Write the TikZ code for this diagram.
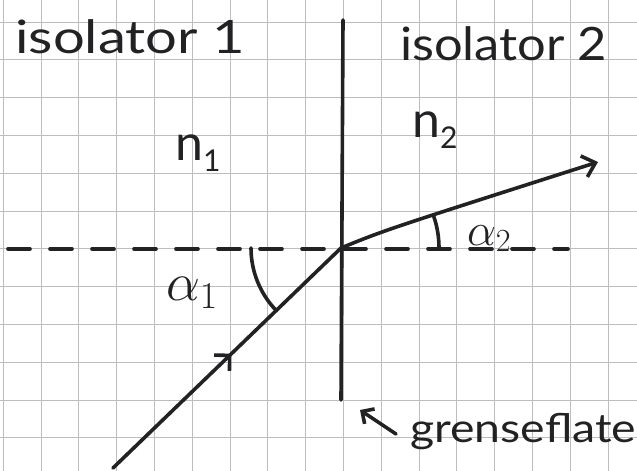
\RequirePackage{fix-cm}
\documentclass[tikz,border=0pt]{standalone}
\usepackage{fontspec}
\setmainfont{Lato}
\usetikzlibrary{arrows.meta,decorations.markings}
\definecolor{ink}{HTML}{222224}
\definecolor{gridc}{HTML}{BDBDBF}
\begin{document}
\begin{tikzpicture}[x=1pt,y=-1pt,
  ink/.style={draw=ink, line width=3.6pt, line cap=round, line join=round},
  gridline/.style={draw=gridc, line width=0.9pt},
  lbl/.style={text=ink, inner sep=0pt},
  barb/.style={-{Straight Barb[length=12pt,width=22pt,line width=3.6pt]}},
  smallbarb/.style={-{Straight Barb[length=9pt,width=18pt,line width=3.6pt]}}
]
\fill[white] (0,0) rectangle (637,471);
\useasboundingbox (0,0) rectangle (637,471);
% grid paper
\foreach \i in {0,...,16} \draw[gridline] ({3.3+37.8*\i},0) -- ({3.3+37.8*\i},471);
\foreach \j in {0,...,11} \draw[gridline] (0,{22+37.8*\j}) -- (637,{22+37.8*\j});
% points
\coordinate (O) at (341,248);
\coordinate (S) at (113,468);
\coordinate (T) at (598,162);
\coordinate (Btop) at (343,20);
\coordinate (Bbot) at (341,400);
\coordinate (Dl) at (8,249);
\coordinate (Dr) at (568,249);
\coordinate (Gtail) at (396,434);
\coordinate (Gtip) at (360,410);
% normal (dashed)
\draw[ink, dash pattern=on 22pt off 20pt] (Dl) -- (Dr);
% interface
\draw[ink] (Btop) -- (Bbot);
% incident ray
\draw[ink, postaction={decorate}, decoration={markings, mark=at position 0.52 with {\arrow{Straight Barb[length=11pt,width=22pt,line width=3.6pt]}}}] (S) -- (O);
% refracted ray
\draw[ink, barb] (O) .. controls (385,230) .. (T);
% angle arcs
\draw[ink] (O) ++(180:90pt) arc[start angle=180, end angle=224, radius=90pt];
\draw[ink] (O) ++(0:98pt) arc[start angle=0, end angle=19, radius=98pt];
% labels
\node[lbl, anchor=base west, xscale=1.22, font=\fontsize{46}{50}\selectfont] (iso1) at (15,53) {isolator 1};
\node[lbl, anchor=base west, xscale=1.1, font=\fontsize{46}{50}\selectfont] (iso2) at (400,60) {isolator 2};
\node[lbl, anchor=base west, font=\fontsize{50}{54}\selectfont] (n1) at (175,160) {n\raisebox{-0.22em}{\fontsize{30}{32}\selectfont 1}};
\node[lbl, anchor=base west, font=\fontsize{50}{54}\selectfont] (n2) at (412,137) {n\raisebox{-0.22em}{\fontsize{30}{32}\selectfont 2}};
\node[lbl, anchor=base west, font=\fontsize{54}{58}\selectfont] (a1) at (166,300) {$\alpha_1$};
\node[lbl, anchor=base west, font=\fontsize{46}{50}\selectfont] (a2) at (467,245) {$\alpha_2$};
\node[lbl, anchor=base west, xscale=1.16, font=\fontsize{40}{44}\selectfont] (gf) at (410,442) {grenseflate};
\draw[ink, smallbarb] (Gtail) -- (Gtip);
\end{tikzpicture}
\end{document}
